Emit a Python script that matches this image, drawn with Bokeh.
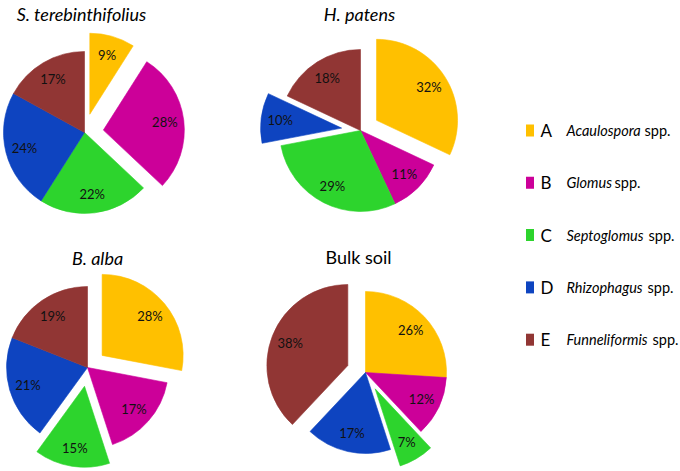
import numpy as np
from bokeh.plotting import figure
from bokeh.models import Range1d, ColumnDataSource
from bokeh.embed import file_html
from bokeh.resources import INLINE
from bokeh.core.properties import value

# ---- data ----
categories = ["A", "B", "C", "D", "E"]
genera = ["Acaulospora", "Glomus", "Septoglomus", "Rhizophagus", "Funneliformis"]
colors = ["#FFC000", "#CC0099", "#2DD42D", "#0E44C0", "#913634"]

s_terebinthifolius = [9, 28, 22, 24, 17]
h_patens = [32, 11, 29, 10, 18]
b_alba = [28, 17, 15, 21, 19]
bulk_soil = [26, 12, 7, 17, 38]

titles = ["S. terebinthifolius", "H. patens", "B. alba", "Bulk soil"]

# ---- layout / style ----
W, H = 680, 471
R = 81          # pie radius (px)
EXPLODE = 19    # explosion offset (px)
LR = 62         # label distance from slice centre (px)
FONT = "Lato"

p = figure(width=W, height=H, x_range=Range1d(0, W), y_range=Range1d(-H, 0),
           output_backend="svg", toolbar_location=None, min_border=0,
           x_axis_location=None, y_axis_location=None)
p.grid.visible = False
p.outline_line_color = None
p.background_fill_color = "white"
p.border_fill_color = "white"

pies = [
    dict(vals=s_terebinthifolius, title=titles[0], italic=True, cx=84, cy=132,
         explode=[1, 1, 0, 0, 0], tx=81, ty=13),
    dict(vals=h_patens, title=titles[1], italic=True, cx=360, cy=130,
         explode=[1, 0, 0, 1, 0], tx=359, ty=13),
    dict(vals=b_alba, title=titles[2], italic=True, cx=87, cy=367,
         explode=[1, 0, 1, 0, 0], tx=97, ty=257),
    dict(vals=bulk_soil, title=titles[3], italic=False, cx=365, cy=372,
         explode=[0, 0, 1, 0, 1], tx=358, ty=256),
]

for pie in pies:
    v = np.array(pie["vals"], dtype=float)
    frac = v / v.sum()
    cum = np.concatenate([[0.0], np.cumsum(frac)])
    a0 = np.pi / 2 - 2 * np.pi * cum[:-1]
    a1 = np.pi / 2 - 2 * np.pi * cum[1:]
    mid = (a0 + a1) / 2
    off = EXPLODE * np.array(pie["explode"], dtype=float)
    x = pie["cx"] + off * np.cos(mid)
    y = -pie["cy"] + off * np.sin(mid)
    src = ColumnDataSource(dict(
        x=x, y=y, start=a1, end=a0, color=colors,
        lx=x + LR * np.cos(mid), ly=y + LR * np.sin(mid),
        label=[f"{int(val)}%" for val in pie["vals"]],
    ))
    p.wedge(x="x", y="y", radius=R, start_angle="start", end_angle="end",
            direction="anticlock", fill_color="color", line_color="color",
            line_width=1, line_alpha=0.6, source=src)
    p.text(x="lx", y="ly", text="label", source=src, text_font=value(FONT),
           text_font_size="13px", text_color="#111111",
           text_align="center", text_baseline="middle")
    p.text(x=[pie["tx"]], y=[-pie["ty"]], text=[pie["title"]], text_font=value(FONT),
           text_font_size="18px", text_color="black",
           text_font_style="italic" if pie["italic"] else "normal",
           text_align="center", text_baseline="middle")

# ---- legend ----
row_y = [130 + 52.3 * i for i in range(len(categories))]
spp_x = [644, 614, 648, 647, 652]
p.rect(x=[529.5] * 5, y=[-yy for yy in row_y], width=8, height=12,
       fill_color=colors, line_color=None)
p.text(x=[540] * 5, y=[-yy for yy in row_y], text=categories, text_font=value(FONT),
       text_font_size="17px", text_color="black", text_align="left", text_baseline="middle")
p.text(x=[566] * 5, y=[-yy for yy in row_y], text=genera, text_font=value(FONT),
       text_font_size="14.5px", text_font_style="italic", text_color="black",
       text_align="left", text_baseline="middle")
p.text(x=spp_x, y=[-yy for yy in row_y], text=["spp."] * 5, text_font=value(FONT),
       text_font_size="14.5px", text_color="black", text_align="left", text_baseline="middle")

open("out.html", "w").write(file_html(p, INLINE))
